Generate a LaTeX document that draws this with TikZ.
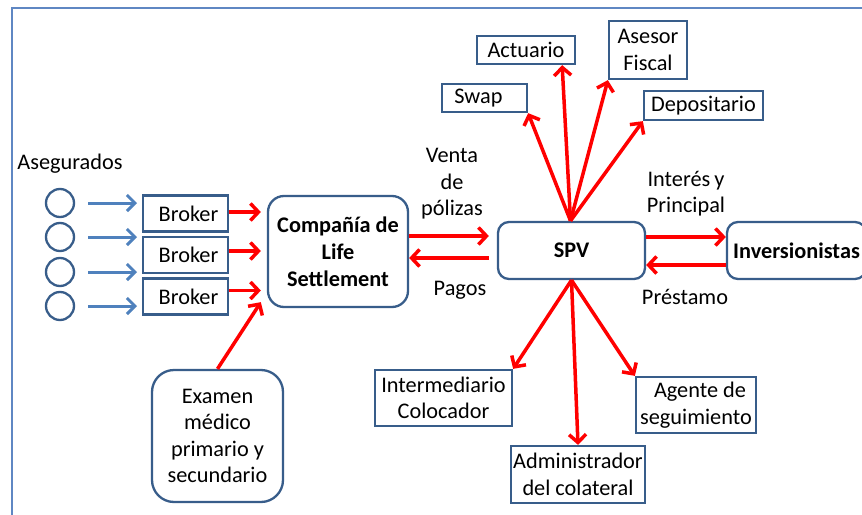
\documentclass[tikz,border=0pt]{standalone}
\usepackage{fontspec}
\setmainfont{Carlito}
\usetikzlibrary{arrows.meta,calc}
\definecolor{boxblue}{RGB}{56,93,138}
\definecolor{flowblue}{RGB}{79,129,189}
\definecolor{framebl}{RGB}{95,135,195}
\definecolor{flowred}{RGB}{255,0,0}
\begin{document}
\begin{tikzpicture}[x=1pt,y=-1pt,
  every node/.style={font=\fontsize{22.3}{26.5}\selectfont, text=black},
  sqbox/.style={draw=boxblue, line width=2.3pt, fill=white, inner sep=0pt, align=center},
  rbox/.style={sqbox, rounded corners=#1},
  rbox/.default=14pt,
  person/.style={circle, draw=boxblue, line width=2.3pt, minimum size=28pt, inner sep=0pt},
  lbl/.style={align=center, inner sep=0pt},
  redflow/.style={draw=flowred, line width=3.5pt, -{Straight Barb[length=8pt,width=17pt]}},
  blueflow/.style={draw=flowblue, line width=3pt, -{Straight Barb[length=8pt,width=16pt]}}
]
\useasboundingbox (0,0) rectangle (862,514);
\fill[white] (0,0) rectangle (862,514);
% outer frame
\draw[framebl, line width=2pt] (12,530) -- (12,8) -- (880,8);

% insured persons
\node[lbl] (aseg) at (70,164) {Asegurados};
\node[person] (p1) at (60,203) {};
\node[person] (p2) at (60,237) {};
\node[person] (p3) at (60,272) {};
\node[person] (p4) at (60,306) {};
\coordinate (t1) at (137,203);
\coordinate (t2) at (137,237);
\coordinate (t3) at (137,272);
\coordinate (t4) at (137,306);
\coordinate (s1) at (88,203);
\coordinate (s2) at (88,237);
\coordinate (s3) at (88,272);
\coordinate (s4) at (88,306);
\foreach \i in {1,...,4} \draw[blueflow] (s\i) -- (t\i);

% brokers
\node[sqbox, minimum width=85pt, minimum height=36pt] (b1) at (185.5,213.5) {\hspace{6pt}Broker};
\node[sqbox, minimum width=85pt, minimum height=36pt] (b2) at (185.5,255) {\hspace{6pt}Broker};
\node[sqbox, minimum width=85pt, minimum height=36pt] (b3) at (185.5,296.5) {\hspace{6pt}Broker};

% main company
\node[rbox=16pt, minimum width=140pt, minimum height=111pt, font=\fontsize{22.3}{27}\selectfont\bfseries] (comp) at (338,251.5) {Compañía de\\Life\\Settlement};

% medical exam
\node[rbox=22pt, minimum width=131pt, minimum height=132pt] (exam) at (217.5,436) {Examen\\médico\\primario y\\secundario};

% SPV and investors
\node[rbox=11pt, minimum width=147pt, minimum height=57pt, font=\fontsize{22.3}{26.5}\selectfont\bfseries] (spv) at (571.5,250.5) {SPV};
\node[rbox=11pt, minimum width=139pt, minimum height=57pt, font=\fontsize{22.3}{26.5}\selectfont\bfseries] (inv) at (796.5,250.5) {Inversionistas};

% service providers above
\node[sqbox, minimum width=98pt, minimum height=28pt] (actu) at (526,50) {Actuario};
\node[sqbox, minimum width=78pt, minimum height=58pt] (ases) at (648,50) {Asesor\\Fiscal};
\node[sqbox, minimum width=85pt, minimum height=28pt] (swap) at (484.5,98) {Swap\hspace{12pt}};
\node[sqbox, minimum width=119pt, minimum height=29pt] (depo) at (703.5,105.5) {Depositario};

% service providers below
\node[sqbox, minimum width=137pt, minimum height=56pt] (inter) at (443.5,398) {Intermediario\\Colocador};
\node[sqbox, minimum width=134pt, minimum height=57pt] (admin) at (578,474.5) {Administrador\\del colateral};
\node[sqbox, minimum width=120pt, minimum height=56pt] (agen) at (696,405) {\hspace{8pt}Agente de\\seguimiento};

% flow labels
\node[lbl] (venta) at (452,184) {Venta\\de\\pólizas};
\node[lbl] (pagos) at (460,290) {Pagos};
\node[lbl] (ip) at (686,193.5) {Interés\hspace{4pt}y\\Principal};
\node[lbl] (prest) at (685,297) {Préstamo};

% arrow end points on the box sides
\coordinate (b1o) at ($(b1.east)+(0pt,1.5pt)$);
\coordinate (b2o) at ($(b2.east)+(0pt,4pt)$);
\coordinate (b3o) at ($(b3.east)+(0pt,6pt)$);
\coordinate (c1i) at ($(comp.west |- b1o)+(-6pt,0pt)$);
\coordinate (c2i) at ($(comp.west |- b2o)+(-6pt,0pt)$);
\coordinate (c3i) at ($(comp.west |- b3o)+(-6pt,0pt)$);
\coordinate (c4i) at ($(comp.south west)+(-6pt,6pt)$);
\coordinate (cout) at ($(comp.east)+(0pt,15.5pt)$);
\coordinate (cin) at ($(comp.east)+(0pt,-6.5pt)$);
\coordinate (sin) at ($(spv.west |- cout)+(-8pt,0pt)$);
\coordinate (sout) at ($(spv.west |- cin)+(-8pt,0pt)$);
\coordinate (spvtop) at ($(spv.north)+(-1pt,0pt)$);
\coordinate (actuin) at ($(actu.south east)+(-14pt,0pt)$);

% brokers and exam to company
\draw[redflow] (b1o) -- (c1i);
\draw[redflow] (b2o) -- (c2i);
\draw[redflow] (b3o) -- (c3i);
\draw[redflow] (exam.north) -- (c4i);

% company <-> SPV
\draw[redflow] (cout) -- (sin);
\draw[redflow] (sout) -- (cin);

% SPV <-> investors
\draw[redflow] ($(spv.east)+(0pt,13.5pt)$) -- ($(inv.west)+(0pt,13.5pt)$);
\draw[redflow] ($(inv.west)+(0pt,-14.5pt)$) -- ($(spv.east)+(0pt,-14.5pt)$);

% SPV to providers
\draw[redflow] (spvtop) -- (swap.south east);
\draw[redflow] (spvtop) -- (actuin);
\draw[redflow] (spvtop) -- (ases.south west);
\draw[redflow] (spvtop) -- (depo.south west);
\draw[redflow] (spv.south) -- (inter.north east);
\draw[redflow] (spv.south) -- (admin.north);
\draw[redflow] (spv.south) -- (agen.north west);
\end{tikzpicture}
\end{document}
